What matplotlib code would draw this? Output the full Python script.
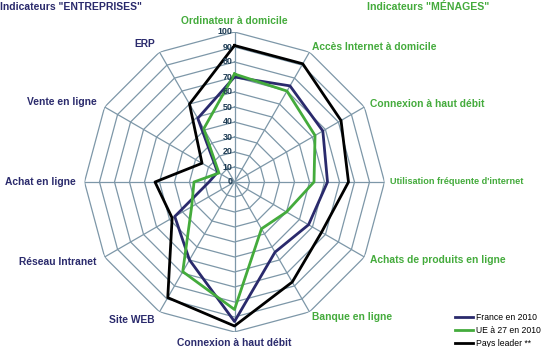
import numpy as np
import matplotlib
matplotlib.use("Agg")
import matplotlib.pyplot as plt
from matplotlib.lines import Line2D

categories = ["Ordinateur à domicile", "Accès Internet à domicile", "Connexion à haut débit",
              "Utilisation fréquente d'internet", "Achats de produits en ligne", "Banque en ligne",
              "Connexion à haut débit", "Site WEB", "Réseau Intranet", "Achat en ligne",
              "Vente en ligne", "ERP"]
groups = ["M", "M", "M", "M", "M", "M", "E", "E", "E", "E", "E", "E"]
france = [70, 74, 68, 62, 57, 54, 93, 60, 46, 17, 13, 49]
ue27 = [72, 70, 62, 53, 40, 36, 85, 69, 33, 27, 12, 41]
leader = [91, 91, 82, 76, 67, 77, 96, 89, 48, 53, 25, 60]
series_names = ["France en 2010", "UE à 27 en 2010", "Pays leader **"]
ticks = list(range(0, 101, 10))

NAVY = "#2a2a6c"
GREEN = "#44ab3c"
GRID = "#7d97a8"
TICKC = "#1c3a52"

plt.rcParams['font.family'] = ['Liberation Sans', 'DejaVu Sans']

fig = plt.figure(figsize=(5.41, 3.47), dpi=100)
cx, cy, R = 234.5, 182.0, 150.0
W, H = 541.0, 347.0
ax = fig.add_axes([(cx - R) / W, (H - cy - R) / H, 2 * R / W, 2 * R / H], projection='polar')
ax.set_theta_zero_location('N')
ax.set_theta_direction(-1)
ax.set_ylim(0, 100)
ax.grid(False)
ax.spines['polar'].set_visible(False)
ax.set_xticks([])
ax.set_yticks([])
ax.patch.set_alpha(0)

n = len(categories)
theta = np.arange(n) * 2 * np.pi / n
tc = np.append(theta, theta[0])

for r in ticks[1:]:
    ax.plot(tc, [r] * (n + 1), color=GRID, lw=0.9, zorder=1)
for t in theta:
    ax.plot([t, t], [0, 100], color=GRID, lw=0.9, zorder=1)

for vals, col in zip([france, ue27, leader], [NAVY, GREEN, "black"]):
    v = list(vals) + [vals[0]]
    ax.plot(tc, v, color=col, lw=2.0, zorder=3)

for r in ticks:
    ax.annotate(str(r), xy=(0, r), xytext=(-1.2, 0), textcoords='offset points',
                ha='right', va='center', fontsize=6.4, fontweight='bold', color=TICKC, zorder=4)

for t, lab, g in zip(theta, categories, groups):
    col = GREEN if g == "M" else NAVY
    s = np.sin(t)
    fs = 7.4
    if abs(s) < 1e-6:
        ha = 'center'
        rr = 107
    elif s > 0:
        ha = 'left'
        rr = 104
        if abs(s - 1) < 1e-6:
            fs = 6.6
    else:
        ha = 'right'
        rr = 106
    ax.text(t, rr, lab, ha=ha, va='center', fontsize=fs, fontweight='bold', color=col)

fig.text(0.0, 1 - 7 / H, 'Indicateurs "ENTREPRISES"', ha='left', va='center',
         fontsize=7.5, fontweight='bold', color=NAVY)
fig.text(367 / W, 1 - 7 / H, 'Indicateurs "MÉNAGES"', ha='left', va='center',
         fontsize=7.6, fontweight='bold', color=GREEN)

handles = [Line2D([], [], color=c, lw=2.0) for c in [NAVY, GREEN, "black"]]
leg = fig.legend(handles, series_names, loc='lower left', bbox_to_anchor=(452 / W, -0.012),
                 frameon=False, fontsize=6.2, handlelength=2.0, handletextpad=0.4,
                 labelspacing=0.45, borderaxespad=0.0)

fig.savefig("out.png", dpi=100)
